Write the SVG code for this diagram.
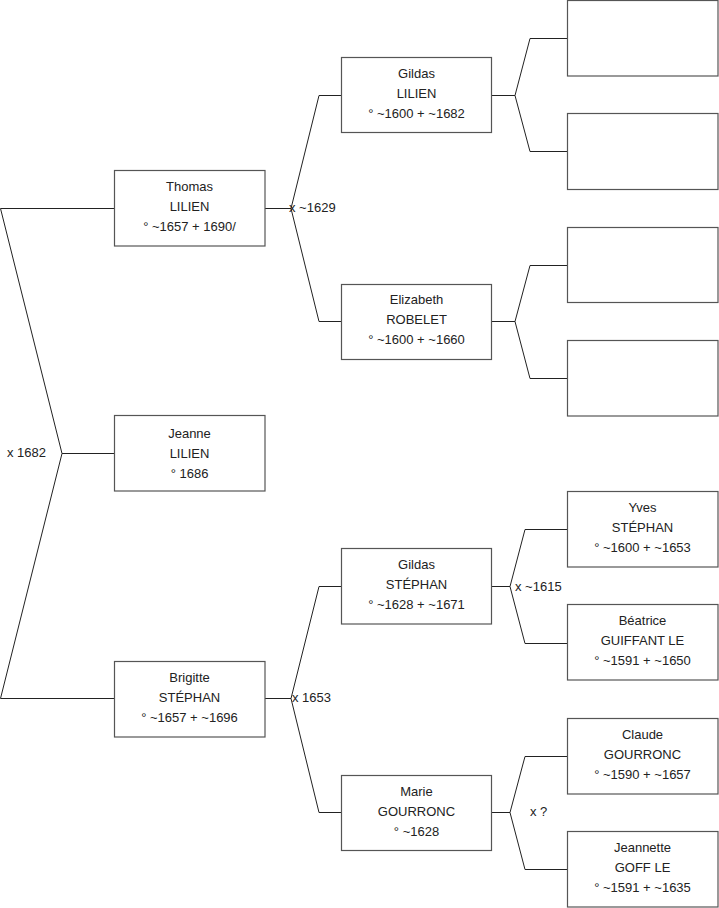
<svg xmlns="http://www.w3.org/2000/svg" width="719" height="908" viewBox="0 0 719 908">
<style>
.box{fill:#fff;stroke:#555;stroke-width:1.2}
.ln{fill:none;stroke:#222;stroke-width:1}
text{font-family:"Liberation Sans",Arial,sans-serif;font-size:13px;fill:#222}
.c{text-anchor:middle}
</style>
<rect width="719" height="908" fill="#fff"/>
<g id="connectors">
<polyline class="ln" points="114,208.5 0.5,208.5 62,453.5 0.5,698.5 114,698.5"/>
<line class="ln" x1="62" y1="453.5" x2="114" y2="453.5"/>
<polyline class="ln" points="265,208.5 291,208.5"/>
<polyline class="ln" points="341,95.5 319,95.5 291,208.5 319,321.5 341,321.5"/>
<polyline class="ln" points="265,698.5 291,698.5"/>
<polyline class="ln" points="341,586.5 319,586.5 291,698.5 319,812.5 341,812.5"/>
<polyline class="ln" points="491,95.5 515,95.5"/>
<polyline class="ln" points="567,38.5 530,38.5 515,95.5 530,151.5 567,151.5"/>
<polyline class="ln" points="491,321.5 515,321.5"/>
<polyline class="ln" points="567,265.5 530,265.5 515,321.5 530,378.5 567,378.5"/>
<polyline class="ln" points="491,586.5 510,586.5"/>
<polyline class="ln" points="567,529.5 525,529.5 510,586.5 525,643.5 567,643.5"/>
<polyline class="ln" points="491,812.5 510,812.5"/>
<polyline class="ln" points="567,756.5 525,756.5 510,812.5 525,869.5 567,869.5"/>
<text x="7" y="457">x 1682</text>
<text x="289" y="212">x ~1629</text>
<text x="292" y="702">x 1653</text>
<text x="515" y="591">x ~1615</text>
<text x="530" y="816">x ?</text>
</g>
<g id="thomas"><rect class="box" x="114.5" y="170.5" width="150.5" height="75.5"/><text class="c" x="189.5" y="191">Thomas</text><text class="c" x="189.5" y="211">LILIEN</text><text class="c" x="189.5" y="231">° ~1657 + 1690/</text></g>
<g id="jeanne"><rect class="box" x="114.5" y="415.5" width="150.5" height="75.5"/><text class="c" x="189.5" y="438">Jeanne</text><text class="c" x="189.5" y="458">LILIEN</text><text class="c" x="189.5" y="478">° 1686</text></g>
<g id="brigitte"><rect class="box" x="114.5" y="661.5" width="150.5" height="75.5"/><text class="c" x="189.5" y="682">Brigitte</text><text class="c" x="189.5" y="702">STÉPHAN</text><text class="c" x="189.5" y="722">° ~1657 + ~1696</text></g>
<g id="gildas-lilien"><rect class="box" x="341.5" y="57.5" width="150" height="75"/><text class="c" x="416.5" y="78">Gildas</text><text class="c" x="416.5" y="98">LILIEN</text><text class="c" x="416.5" y="118">° ~1600 + ~1682</text></g>
<g id="elizabeth"><rect class="box" x="341.5" y="284.5" width="150" height="75"/><text class="c" x="416.5" y="304">Elizabeth</text><text class="c" x="416.5" y="324">ROBELET</text><text class="c" x="416.5" y="344">° ~1600 + ~1660</text></g>
<g id="gildas-stephan"><rect class="box" x="341.5" y="548.5" width="150" height="75.5"/><text class="c" x="416.5" y="569">Gildas</text><text class="c" x="416.5" y="589">STÉPHAN</text><text class="c" x="416.5" y="609">° ~1628 + ~1671</text></g>
<g id="marie"><rect class="box" x="341.5" y="775.5" width="150" height="75"/><text class="c" x="416.5" y="796">Marie</text><text class="c" x="416.5" y="816">GOURRONC</text><text class="c" x="416.5" y="836">° ~1628</text></g>
<g id="unknown1"><rect class="box" x="567.5" y="0.5" width="150.5" height="75.5"/></g>
<g id="unknown2"><rect class="box" x="567.5" y="113.5" width="150.5" height="76"/></g>
<g id="unknown3"><rect class="box" x="567.5" y="227.5" width="150.5" height="75"/></g>
<g id="unknown4"><rect class="box" x="567.5" y="340.5" width="150.5" height="75.5"/></g>
<g id="yves"><rect class="box" x="567.5" y="491.5" width="150.5" height="75.5"/><text class="c" x="642.5" y="512">Yves</text><text class="c" x="642.5" y="532">STÉPHAN</text><text class="c" x="642.5" y="552">° ~1600 + ~1653</text></g>
<g id="beatrice"><rect class="box" x="567.5" y="604.5" width="150.5" height="75.5"/><text class="c" x="642.5" y="625">Béatrice</text><text class="c" x="642.5" y="645">GUIFFANT LE</text><text class="c" x="642.5" y="665">° ~1591 + ~1650</text></g>
<g id="claude"><rect class="box" x="567.5" y="718.5" width="150.5" height="75.5"/><text class="c" x="642.5" y="739">Claude</text><text class="c" x="642.5" y="759">GOURRONC</text><text class="c" x="642.5" y="779">° ~1590 + ~1657</text></g>
<g id="jeannette"><rect class="box" x="567.5" y="831.5" width="150.5" height="75.5"/><text class="c" x="642.5" y="852">Jeannette</text><text class="c" x="642.5" y="872">GOFF LE</text><text class="c" x="642.5" y="892">° ~1591 + ~1635</text></g>
</svg>
